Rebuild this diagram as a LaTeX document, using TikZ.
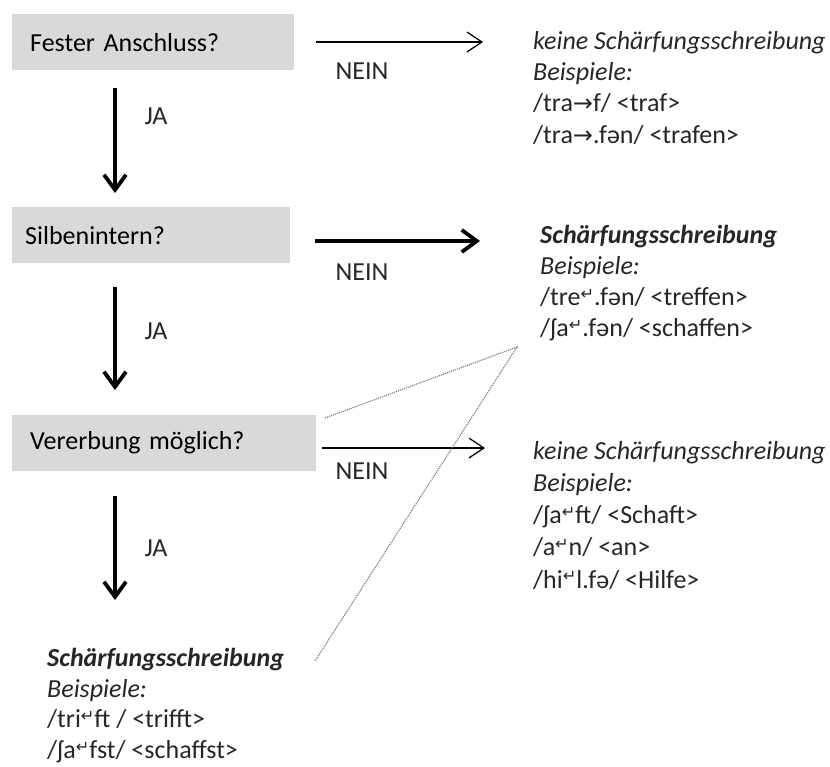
\documentclass[tikz,border=0pt]{standalone}
\usepackage{fontspec}
\setmainfont{Carlito}
\newfontfamily\dvfont{DejaVu Sans}
\usetikzlibrary{arrows.meta}
\newcommand{\retmark}{\raisebox{0.5ex}{\scalebox{0.62}{\dvfont ↵}}}
\newcommand{\arrmark}{{\dvfont\fontsize{24}{24}\selectfont →}}
\definecolor{boxgray}{HTML}{D9D9D9}
\definecolor{txt}{HTML}{262626}
\tikzset{
  qbox/.style={fill=boxgray, inner ysep=0pt, minimum height=56pt, anchor=north west, align=left, text=black, font=\fontsize{26}{30}\selectfont},
  thickarrow/.style={line width=3.8pt, -{Straight Barb[length=15pt, width=22pt, line width=3.8pt]}},
  thinarrow/.style={line width=1.2pt, -{Straight Barb[length=15pt, width=20pt, line width=1.2pt]}},
  lbl/.style={font=\fontsize{26}{30}\selectfont, text=txt, inner sep=0pt},
  block/.style={anchor=north west, align=left, inner sep=0pt, text=txt},
  dotline/.style={black!55, line width=1.1pt, densely dotted}
}
\begin{document}
\begin{tikzpicture}[x=1pt,y=-1pt]
\path[use as bounding box] (0,0) rectangle (830,766);
% question boxes
\node[qbox, minimum width=282pt, inner xsep=18pt, text width=246pt] (q1) at (12,14) {Fester Anschluss?};
\node[qbox, minimum width=278pt, inner xsep=13pt, text width=252pt] (q2) at (12,207) {Silbenintern?};
\node[qbox, minimum width=304pt, inner xsep=18pt, text width=268pt] (q3) at (12,415) {Vererbung möglich?};
% result blocks
\node[block, font=\fontsize{26}{31.3}\selectfont] (r1) at (533,31) {\textit{keine Schärfungsschreibung}\\\textit{Beispiele:}\\/tra\arrmark f/ <traf>\\/tra\arrmark.fən/ <trafen>};
\node[block, font=\fontsize{26}{31}\selectfont] (r2) at (540,225) {\textbf{\textit{Schärfungsschreibung}}\\\textit{Beispiele:}\\/tre\retmark.fən/ <treffen>\\/ʃa\retmark.fən/ <schaffen>};
\node[block, font=\fontsize{26}{32.2}\selectfont] (r3) at (533,441) {\textit{keine Schärfungsschreibung}\\\textit{Beispiele:}\\/ʃa\retmark ft/ <Schaft>\\/a\retmark n/ <an>\\/hi\retmark l.fə/ <Hilfe>};
\node[block, font=\fontsize{26}{30.7}\selectfont] (r4) at (47,648) {\textbf{\textit{Schärfungsschreibung}}\\\textit{Beispiele:}\\/tri\retmark ft / <trifft>\\/ʃa\retmark fst/ <schaffst>};
% arrow ends
\coordinate (n1s) at (316,42); \coordinate (n1e) at (483,42);
\coordinate (n2s) at (315,241); \coordinate (n2e) at (480,241);
\coordinate (n3s) at (322,448); \coordinate (n3e) at (485,448);
\coordinate (j1s) at (115,88); \coordinate (j1e) at (115,193);
\coordinate (j2s) at (115,287); \coordinate (j2e) at (115,390);
\coordinate (j3s) at (115,496); \coordinate (j3e) at (115,600);
\draw[thinarrow] (n1s) -- (n1e);
\draw[thickarrow] (n2s) -- (n2e);
\draw[thinarrow] (n3s) -- (n3e);
\draw[thickarrow] (j1s) -- (j1e);
\draw[thickarrow] (j2s) -- (j2e);
\draw[thickarrow] (j3s) -- (j3e);
% labels
\node[lbl] (l1) at (362,71) {NEIN};
\node[lbl] (l2) at (362,272) {NEIN};
\node[lbl] (l3) at (362,471) {NEIN};
\node[lbl] (k1) at (156,116) {JA};
\node[lbl] (k2) at (156,331) {JA};
\node[lbl] (k3) at (156,548) {JA};
% dotted connectors
\coordinate (d1) at (325,418);
\coordinate (d2) at (517,347);
\coordinate (d3) at (315,661);
\draw[dotline] (d1) -- (d2) -- (d3);
\end{tikzpicture}
\end{document}
